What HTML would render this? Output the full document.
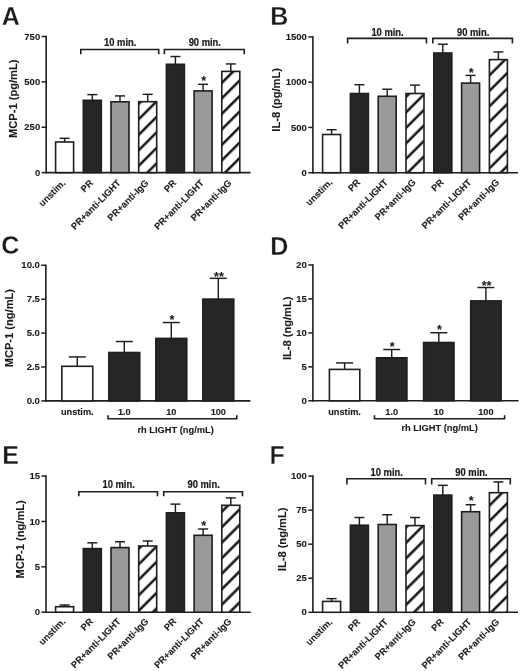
<!DOCTYPE html><html><head><meta charset="utf-8"><style>html,body{margin:0;padding:0;background:#fff;width:520px;height:671px;overflow:hidden}svg{display:block;will-change:transform}</style></head><body>
<svg width="520" height="671" viewBox="0 0 520 671" style="font-family:'Liberation Sans',sans-serif;font-weight:bold" fill="#1a1a1a">
<style>text{stroke:#1a1a1a;stroke-width:0.1px} .bl{stroke-width:0.2px}</style>
<defs><pattern id="h0" patternUnits="userSpaceOnUse" width="10.96" height="10.96" patternTransform="rotate(45)"><rect width="10.96" height="10.96" fill="#fff"/><rect x="5.82" y="-1" width="2.5" height="13" fill="#141414"/><rect x="-5.14" y="-1" width="2.5" height="13" fill="#141414"/></pattern><pattern id="h1" patternUnits="userSpaceOnUse" width="10.96" height="10.96" patternTransform="rotate(45)"><rect width="10.96" height="10.96" fill="#fff"/><rect x="5.96" y="-1" width="2.5" height="13" fill="#141414"/><rect x="-5.0" y="-1" width="2.5" height="13" fill="#141414"/></pattern><pattern id="h2" patternUnits="userSpaceOnUse" width="10.96" height="10.96" patternTransform="rotate(45)"><rect width="10.96" height="10.96" fill="#fff"/><rect x="3.63" y="-1" width="2.5" height="13" fill="#141414"/><rect x="-7.33" y="-1" width="2.5" height="13" fill="#141414"/></pattern><pattern id="h3" patternUnits="userSpaceOnUse" width="10.96" height="10.96" patternTransform="rotate(45)"><rect width="10.96" height="10.96" fill="#fff"/><rect x="3.56" y="-1" width="2.5" height="13" fill="#141414"/><rect x="-7.4" y="-1" width="2.5" height="13" fill="#141414"/></pattern><pattern id="h4" patternUnits="userSpaceOnUse" width="10.96" height="10.96" patternTransform="rotate(45)"><rect width="10.96" height="10.96" fill="#fff"/><rect x="2.64" y="-1" width="2.5" height="13" fill="#141414"/><rect x="-8.32" y="-1" width="2.5" height="13" fill="#141414"/></pattern><pattern id="h5" patternUnits="userSpaceOnUse" width="10.96" height="10.96" patternTransform="rotate(45)"><rect width="10.96" height="10.96" fill="#fff"/><rect x="2.29" y="-1" width="2.5" height="13" fill="#141414"/><rect x="-8.67" y="-1" width="2.5" height="13" fill="#141414"/></pattern><pattern id="h6" patternUnits="userSpaceOnUse" width="10.96" height="10.96" patternTransform="rotate(45)"><rect width="10.96" height="10.96" fill="#fff"/><rect x="1.15" y="-1" width="2.5" height="13" fill="#141414"/><rect x="-9.81" y="-1" width="2.5" height="13" fill="#141414"/></pattern><pattern id="h7" patternUnits="userSpaceOnUse" width="10.96" height="10.96" patternTransform="rotate(45)"><rect width="10.96" height="10.96" fill="#fff"/><rect x="0.87" y="-1" width="2.5" height="13" fill="#141414"/><rect x="-10.09" y="-1" width="2.5" height="13" fill="#141414"/></pattern></defs>
<rect width="520" height="671" fill="#fff"/>
<text x="1.85" y="25.0" font-size="25" style="stroke:#fff;stroke-width:0.3px">A</text>
<text x="270.25" y="25.0" font-size="25" style="stroke:#fff;stroke-width:0.3px">B</text>
<text x="1.3" y="254.4" font-size="25" style="stroke:#fff;stroke-width:0.3px">C</text>
<text x="270.25" y="254.8" font-size="25" style="stroke:#fff;stroke-width:0.3px">D</text>
<text x="2.15" y="463.8" font-size="25" style="stroke:#fff;stroke-width:0.3px">E</text>
<text x="269.55" y="463.8" font-size="25" style="stroke:#fff;stroke-width:0.3px">F</text>
<line x1="46.2" y1="35.75" x2="46.2" y2="173.4" stroke="#1e1e1e" stroke-width="1.6"/>
<line x1="45.4" y1="172.6" x2="250.5" y2="172.6" stroke="#1e1e1e" stroke-width="1.6"/>
<line x1="41.6" y1="172.6" x2="46.2" y2="172.6" stroke="#1e1e1e" stroke-width="1.5"/>
<text x="40.2" y="175.7" font-size="9.5" text-anchor="end">0</text>
<line x1="41.6" y1="127.23" x2="46.2" y2="127.23" stroke="#1e1e1e" stroke-width="1.5"/>
<text x="40.2" y="130.33" font-size="9.5" text-anchor="end">250</text>
<line x1="41.6" y1="81.87" x2="46.2" y2="81.87" stroke="#1e1e1e" stroke-width="1.5"/>
<text x="40.2" y="84.97" font-size="9.5" text-anchor="end">500</text>
<line x1="41.6" y1="36.5" x2="46.2" y2="36.5" stroke="#1e1e1e" stroke-width="1.5"/>
<text x="40.2" y="39.6" font-size="9.5" text-anchor="end">750</text>
<text transform="translate(16.8 98.75) rotate(-90) scale(1.06 1.0)" font-size="10.5" text-anchor="middle">MCP-1 (pg/mL)</text>
<line x1="64.6" y1="142.0" x2="64.6" y2="138.32" stroke="#1e1e1e" stroke-width="1.45"/>
<line x1="59.6" y1="138.32" x2="69.6" y2="138.32" stroke="#1e1e1e" stroke-width="1.45"/>
<rect x="55.6" y="142.0" width="18.0" height="30.6" fill="#fff" stroke="#1e1e1e" stroke-width="1.6"/>
<line x1="92.3" y1="100.3" x2="92.3" y2="94.62" stroke="#1e1e1e" stroke-width="1.45"/>
<line x1="87.3" y1="94.62" x2="97.3" y2="94.62" stroke="#1e1e1e" stroke-width="1.45"/>
<rect x="83.3" y="100.3" width="18.0" height="72.3" fill="#262626" stroke="#1e1e1e" stroke-width="1.6"/>
<line x1="120.0" y1="101.8" x2="120.0" y2="95.92" stroke="#1e1e1e" stroke-width="1.45"/>
<line x1="115.0" y1="95.92" x2="125.0" y2="95.92" stroke="#1e1e1e" stroke-width="1.45"/>
<rect x="111.0" y="101.8" width="18.0" height="70.8" fill="#9a9a9a" stroke="#1e1e1e" stroke-width="1.6"/>
<line x1="147.7" y1="101.7" x2="147.7" y2="94.32" stroke="#1e1e1e" stroke-width="1.45"/>
<line x1="142.7" y1="94.32" x2="152.7" y2="94.32" stroke="#1e1e1e" stroke-width="1.45"/>
<rect x="138.7" y="101.7" width="18.0" height="70.9" fill="url(#h0)" stroke="#1e1e1e" stroke-width="1.6"/>
<line x1="175.4" y1="64.3" x2="175.4" y2="56.52" stroke="#1e1e1e" stroke-width="1.45"/>
<line x1="170.4" y1="56.52" x2="180.4" y2="56.52" stroke="#1e1e1e" stroke-width="1.45"/>
<rect x="166.4" y="64.3" width="18.0" height="108.3" fill="#262626" stroke="#1e1e1e" stroke-width="1.6"/>
<line x1="203.1" y1="90.9" x2="203.1" y2="84.32" stroke="#1e1e1e" stroke-width="1.45"/>
<line x1="198.1" y1="84.32" x2="208.1" y2="84.32" stroke="#1e1e1e" stroke-width="1.45"/>
<rect x="194.1" y="90.9" width="18.0" height="81.7" fill="#9a9a9a" stroke="#1e1e1e" stroke-width="1.6"/>
<text x="203.7" y="85.0" font-size="12.5" text-anchor="middle">*</text>
<line x1="230.8" y1="71.4" x2="230.8" y2="63.93" stroke="#1e1e1e" stroke-width="1.45"/>
<line x1="225.8" y1="63.93" x2="235.8" y2="63.93" stroke="#1e1e1e" stroke-width="1.45"/>
<rect x="221.8" y="71.4" width="18.0" height="101.2" fill="url(#h1)" stroke="#1e1e1e" stroke-width="1.6"/>
<path d="M80.8 54.2 V49.5 H158.7 V54.2" fill="none" stroke="#1e1e1e" stroke-width="1.6"/>
<text class="bl" transform="translate(120.25 46.0) scale(1.0 1.08)" font-size="9.4" text-anchor="middle">10 min.</text>
<path d="M164.4 54.2 V49.5 H244.2 V54.2" fill="none" stroke="#1e1e1e" stroke-width="1.6"/>
<text class="bl" transform="translate(204.8 46.0) scale(1.0 1.08)" font-size="9.4" text-anchor="middle">90 min.</text>
<text x="66.0" y="183.6" font-size="9.3" text-anchor="end" transform="rotate(-45 66.0 183.6)">unstim.</text>
<text x="93.7" y="183.6" font-size="9.3" text-anchor="end" transform="rotate(-45 93.7 183.6)">PR</text>
<text x="121.4" y="183.6" font-size="9.3" text-anchor="end" transform="rotate(-45 121.4 183.6)">PR+anti-LIGHT</text>
<text x="149.1" y="183.6" font-size="9.3" text-anchor="end" transform="rotate(-45 149.1 183.6)">PR+anti-IgG</text>
<text x="176.8" y="183.6" font-size="9.3" text-anchor="end" transform="rotate(-45 176.8 183.6)">PR</text>
<text x="204.5" y="183.6" font-size="9.3" text-anchor="end" transform="rotate(-45 204.5 183.6)">PR+anti-LIGHT</text>
<text x="232.2" y="183.6" font-size="9.3" text-anchor="end" transform="rotate(-45 232.2 183.6)">PR+anti-IgG</text>
<line x1="312.9" y1="36.15" x2="312.9" y2="173.5" stroke="#1e1e1e" stroke-width="1.6"/>
<line x1="312.1" y1="172.7" x2="518" y2="172.7" stroke="#1e1e1e" stroke-width="1.6"/>
<line x1="308.3" y1="172.7" x2="312.9" y2="172.7" stroke="#1e1e1e" stroke-width="1.5"/>
<text x="306.9" y="175.8" font-size="9.5" text-anchor="end">0</text>
<line x1="308.3" y1="127.43" x2="312.9" y2="127.43" stroke="#1e1e1e" stroke-width="1.5"/>
<text x="306.9" y="130.53" font-size="9.5" text-anchor="end">500</text>
<line x1="308.3" y1="82.17" x2="312.9" y2="82.17" stroke="#1e1e1e" stroke-width="1.5"/>
<text x="306.9" y="85.27" font-size="9.5" text-anchor="end">1000</text>
<line x1="308.3" y1="36.9" x2="312.9" y2="36.9" stroke="#1e1e1e" stroke-width="1.5"/>
<text x="306.9" y="40.0" font-size="9.5" text-anchor="end">1500</text>
<text transform="translate(279.9 99.9) rotate(-90) scale(1.06 1.0)" font-size="10.5" text-anchor="middle">IL-8 (pg/mL)</text>
<line x1="331.6" y1="134.5" x2="331.6" y2="129.72" stroke="#1e1e1e" stroke-width="1.45"/>
<line x1="326.6" y1="129.72" x2="336.6" y2="129.72" stroke="#1e1e1e" stroke-width="1.45"/>
<rect x="322.6" y="134.5" width="18.0" height="38.2" fill="#fff" stroke="#1e1e1e" stroke-width="1.6"/>
<line x1="359.4" y1="93.5" x2="359.4" y2="84.72" stroke="#1e1e1e" stroke-width="1.45"/>
<line x1="354.4" y1="84.72" x2="364.4" y2="84.72" stroke="#1e1e1e" stroke-width="1.45"/>
<rect x="350.4" y="93.5" width="18.0" height="79.2" fill="#262626" stroke="#1e1e1e" stroke-width="1.6"/>
<line x1="387.2" y1="96.3" x2="387.2" y2="89.22" stroke="#1e1e1e" stroke-width="1.45"/>
<line x1="382.2" y1="89.22" x2="392.2" y2="89.22" stroke="#1e1e1e" stroke-width="1.45"/>
<rect x="378.2" y="96.3" width="18.0" height="76.4" fill="#9a9a9a" stroke="#1e1e1e" stroke-width="1.6"/>
<line x1="415.0" y1="93.5" x2="415.0" y2="85.12" stroke="#1e1e1e" stroke-width="1.45"/>
<line x1="410.0" y1="85.12" x2="420.0" y2="85.12" stroke="#1e1e1e" stroke-width="1.45"/>
<rect x="406.0" y="93.5" width="18.0" height="79.2" fill="url(#h2)" stroke="#1e1e1e" stroke-width="1.6"/>
<line x1="442.8" y1="53.0" x2="442.8" y2="44.23" stroke="#1e1e1e" stroke-width="1.45"/>
<line x1="437.8" y1="44.23" x2="447.8" y2="44.23" stroke="#1e1e1e" stroke-width="1.45"/>
<rect x="433.8" y="53.0" width="18.0" height="119.7" fill="#262626" stroke="#1e1e1e" stroke-width="1.6"/>
<line x1="470.6" y1="83.1" x2="470.6" y2="75.42" stroke="#1e1e1e" stroke-width="1.45"/>
<line x1="465.6" y1="75.42" x2="475.6" y2="75.42" stroke="#1e1e1e" stroke-width="1.45"/>
<rect x="461.6" y="83.1" width="18.0" height="89.6" fill="#9a9a9a" stroke="#1e1e1e" stroke-width="1.6"/>
<text x="471.2" y="77.0" font-size="12.5" text-anchor="middle">*</text>
<line x1="498.4" y1="59.6" x2="498.4" y2="51.93" stroke="#1e1e1e" stroke-width="1.45"/>
<line x1="493.4" y1="51.93" x2="503.4" y2="51.93" stroke="#1e1e1e" stroke-width="1.45"/>
<rect x="489.4" y="59.6" width="18.0" height="113.1" fill="url(#h3)" stroke="#1e1e1e" stroke-width="1.6"/>
<path d="M347.6 43.5 V38.4 H426.5 V43.5" fill="none" stroke="#1e1e1e" stroke-width="1.6"/>
<text class="bl" transform="translate(387.55 35.5) scale(1.0 1.08)" font-size="9.4" text-anchor="middle">10 min.</text>
<path d="M432.8 43.5 V38.4 H512.4 V43.5" fill="none" stroke="#1e1e1e" stroke-width="1.6"/>
<text class="bl" transform="translate(473.1 35.5) scale(1.0 1.08)" font-size="9.4" text-anchor="middle">90 min.</text>
<text x="333.0" y="182.9" font-size="9.3" text-anchor="end" transform="rotate(-45 333.0 182.9)">unstim.</text>
<text x="360.8" y="182.9" font-size="9.3" text-anchor="end" transform="rotate(-45 360.8 182.9)">PR</text>
<text x="388.6" y="182.9" font-size="9.3" text-anchor="end" transform="rotate(-45 388.6 182.9)">PR+anti-LIGHT</text>
<text x="416.4" y="182.9" font-size="9.3" text-anchor="end" transform="rotate(-45 416.4 182.9)">PR+anti-IgG</text>
<text x="444.2" y="182.9" font-size="9.3" text-anchor="end" transform="rotate(-45 444.2 182.9)">PR</text>
<text x="472.0" y="182.9" font-size="9.3" text-anchor="end" transform="rotate(-45 472.0 182.9)">PR+anti-LIGHT</text>
<text x="499.8" y="182.9" font-size="9.3" text-anchor="end" transform="rotate(-45 499.8 182.9)">PR+anti-IgG</text>
<line x1="45.85" y1="264.55" x2="45.85" y2="401.7" stroke="#1e1e1e" stroke-width="1.6"/>
<line x1="45.05" y1="400.9" x2="250.4" y2="400.9" stroke="#1e1e1e" stroke-width="1.6"/>
<line x1="41.25" y1="400.9" x2="45.85" y2="400.9" stroke="#1e1e1e" stroke-width="1.5"/>
<text x="39.85" y="404.0" font-size="9.5" text-anchor="end">0.0</text>
<line x1="41.25" y1="367.0" x2="45.85" y2="367.0" stroke="#1e1e1e" stroke-width="1.5"/>
<text x="39.85" y="370.1" font-size="9.5" text-anchor="end">2.5</text>
<line x1="41.25" y1="333.1" x2="45.85" y2="333.1" stroke="#1e1e1e" stroke-width="1.5"/>
<text x="39.85" y="336.2" font-size="9.5" text-anchor="end">5.0</text>
<line x1="41.25" y1="299.2" x2="45.85" y2="299.2" stroke="#1e1e1e" stroke-width="1.5"/>
<text x="39.85" y="302.3" font-size="9.5" text-anchor="end">7.5</text>
<line x1="41.25" y1="265.3" x2="45.85" y2="265.3" stroke="#1e1e1e" stroke-width="1.5"/>
<text x="39.85" y="268.4" font-size="9.5" text-anchor="end">10.0</text>
<text transform="translate(12.9 328.15) rotate(-90) scale(1.06 1.0)" font-size="10.5" text-anchor="middle">MCP-1 (ng/mL)</text>
<line x1="77.3" y1="366.3" x2="77.3" y2="356.93" stroke="#1e1e1e" stroke-width="1.45"/>
<line x1="68.8" y1="356.93" x2="85.8" y2="356.93" stroke="#1e1e1e" stroke-width="1.45"/>
<rect x="61.85" y="366.3" width="30.9" height="34.6" fill="#fff" stroke="#1e1e1e" stroke-width="1.6"/>
<text x="77.3" y="414.6" font-size="9.2" text-anchor="middle">unstim.</text>
<line x1="124.3" y1="352.5" x2="124.3" y2="341.53" stroke="#1e1e1e" stroke-width="1.45"/>
<line x1="115.8" y1="341.53" x2="132.8" y2="341.53" stroke="#1e1e1e" stroke-width="1.45"/>
<rect x="108.85" y="352.5" width="30.9" height="48.4" fill="#262626" stroke="#1e1e1e" stroke-width="1.6"/>
<text x="124.3" y="414.6" font-size="9.2" text-anchor="middle">1.0</text>
<line x1="171.3" y1="338.4" x2="171.3" y2="322.53" stroke="#1e1e1e" stroke-width="1.45"/>
<line x1="162.8" y1="322.53" x2="179.8" y2="322.53" stroke="#1e1e1e" stroke-width="1.45"/>
<rect x="155.85" y="338.4" width="30.9" height="62.5" fill="#262626" stroke="#1e1e1e" stroke-width="1.6"/>
<text x="171.9" y="324.3" font-size="12.5" text-anchor="middle">*</text>
<text x="171.3" y="414.6" font-size="9.2" text-anchor="middle">10</text>
<line x1="218.3" y1="299.1" x2="218.3" y2="278.33" stroke="#1e1e1e" stroke-width="1.45"/>
<line x1="209.8" y1="278.33" x2="226.8" y2="278.33" stroke="#1e1e1e" stroke-width="1.45"/>
<rect x="202.85" y="299.1" width="30.9" height="101.8" fill="#262626" stroke="#1e1e1e" stroke-width="1.6"/>
<text x="218.9" y="281.4" font-size="12.5" text-anchor="middle">**</text>
<text x="218.3" y="414.6" font-size="9.2" text-anchor="middle">100</text>
<path d="M108.1 415.3 V418.8 H236.8 V415.3" fill="none" stroke="#1e1e1e" stroke-width="1.6"/>
<text x="175.6" y="433.3" font-size="9.3" text-anchor="middle">rh LIGHT (ng/mL)</text>
<line x1="312.9" y1="264.25" x2="312.9" y2="401.6" stroke="#1e1e1e" stroke-width="1.6"/>
<line x1="312.1" y1="400.8" x2="518.5" y2="400.8" stroke="#1e1e1e" stroke-width="1.6"/>
<line x1="308.3" y1="400.8" x2="312.9" y2="400.8" stroke="#1e1e1e" stroke-width="1.5"/>
<text x="306.9" y="403.9" font-size="9.5" text-anchor="end">0</text>
<line x1="308.3" y1="366.85" x2="312.9" y2="366.85" stroke="#1e1e1e" stroke-width="1.5"/>
<text x="306.9" y="369.95" font-size="9.5" text-anchor="end">5</text>
<line x1="308.3" y1="332.9" x2="312.9" y2="332.9" stroke="#1e1e1e" stroke-width="1.5"/>
<text x="306.9" y="336.0" font-size="9.5" text-anchor="end">10</text>
<line x1="308.3" y1="298.95" x2="312.9" y2="298.95" stroke="#1e1e1e" stroke-width="1.5"/>
<text x="306.9" y="302.05" font-size="9.5" text-anchor="end">15</text>
<line x1="308.3" y1="265.0" x2="312.9" y2="265.0" stroke="#1e1e1e" stroke-width="1.5"/>
<text x="306.9" y="268.1" font-size="9.5" text-anchor="end">20</text>
<text transform="translate(290.5 328.3) rotate(-90) scale(1.06 1.0)" font-size="10.5" text-anchor="middle">IL-8 (ng/mL)</text>
<line x1="344.6" y1="369.4" x2="344.6" y2="362.93" stroke="#1e1e1e" stroke-width="1.45"/>
<line x1="336.1" y1="362.93" x2="353.1" y2="362.93" stroke="#1e1e1e" stroke-width="1.45"/>
<rect x="329.4" y="369.4" width="30.4" height="31.4" fill="#fff" stroke="#1e1e1e" stroke-width="1.6"/>
<text x="344.6" y="414.6" font-size="9.2" text-anchor="middle">unstim.</text>
<line x1="391.7" y1="357.8" x2="391.7" y2="349.53" stroke="#1e1e1e" stroke-width="1.45"/>
<line x1="383.2" y1="349.53" x2="400.2" y2="349.53" stroke="#1e1e1e" stroke-width="1.45"/>
<rect x="376.5" y="357.8" width="30.4" height="43.0" fill="#262626" stroke="#1e1e1e" stroke-width="1.6"/>
<text x="392.3" y="350.8" font-size="12.5" text-anchor="middle">*</text>
<text x="391.7" y="414.6" font-size="9.2" text-anchor="middle">1.0</text>
<line x1="438.8" y1="342.5" x2="438.8" y2="332.73" stroke="#1e1e1e" stroke-width="1.45"/>
<line x1="430.3" y1="332.73" x2="447.3" y2="332.73" stroke="#1e1e1e" stroke-width="1.45"/>
<rect x="423.6" y="342.5" width="30.4" height="58.3" fill="#262626" stroke="#1e1e1e" stroke-width="1.6"/>
<text x="439.4" y="334.1" font-size="12.5" text-anchor="middle">*</text>
<text x="438.8" y="414.6" font-size="9.2" text-anchor="middle">10</text>
<line x1="485.9" y1="300.9" x2="485.9" y2="287.53" stroke="#1e1e1e" stroke-width="1.45"/>
<line x1="477.4" y1="287.53" x2="494.4" y2="287.53" stroke="#1e1e1e" stroke-width="1.45"/>
<rect x="470.7" y="300.9" width="30.4" height="99.9" fill="#262626" stroke="#1e1e1e" stroke-width="1.6"/>
<text x="486.5" y="289.6" font-size="12.5" text-anchor="middle">**</text>
<text x="485.9" y="414.6" font-size="9.2" text-anchor="middle">100</text>
<path d="M374.5 415.3 V418.8 H504.6 V415.3" fill="none" stroke="#1e1e1e" stroke-width="1.6"/>
<text x="439.6" y="431.3" font-size="9.3" text-anchor="middle">rh LIGHT (ng/mL)</text>
<line x1="46.0" y1="475.35" x2="46.0" y2="613.0" stroke="#1e1e1e" stroke-width="1.6"/>
<line x1="45.2" y1="612.2" x2="250.8" y2="612.2" stroke="#1e1e1e" stroke-width="1.6"/>
<line x1="41.4" y1="612.2" x2="46.0" y2="612.2" stroke="#1e1e1e" stroke-width="1.5"/>
<text x="40.0" y="615.3" font-size="9.5" text-anchor="end">0</text>
<line x1="41.4" y1="566.83" x2="46.0" y2="566.83" stroke="#1e1e1e" stroke-width="1.5"/>
<text x="40.0" y="569.93" font-size="9.5" text-anchor="end">5</text>
<line x1="41.4" y1="521.47" x2="46.0" y2="521.47" stroke="#1e1e1e" stroke-width="1.5"/>
<text x="40.0" y="524.57" font-size="9.5" text-anchor="end">10</text>
<line x1="41.4" y1="476.1" x2="46.0" y2="476.1" stroke="#1e1e1e" stroke-width="1.5"/>
<text x="40.0" y="479.2" font-size="9.5" text-anchor="end">15</text>
<text transform="translate(23.6 539.4) rotate(-90) scale(1.06 1.0)" font-size="10.5" text-anchor="middle">MCP-1 (ng/mL)</text>
<line x1="64.6" y1="606.7" x2="64.6" y2="605.02" stroke="#1e1e1e" stroke-width="1.45"/>
<line x1="59.6" y1="605.02" x2="69.6" y2="605.02" stroke="#1e1e1e" stroke-width="1.45"/>
<rect x="55.6" y="606.7" width="18.0" height="5.5" fill="#fff" stroke="#1e1e1e" stroke-width="1.6"/>
<line x1="92.3" y1="548.6" x2="92.3" y2="542.83" stroke="#1e1e1e" stroke-width="1.45"/>
<line x1="87.3" y1="542.83" x2="97.3" y2="542.83" stroke="#1e1e1e" stroke-width="1.45"/>
<rect x="83.3" y="548.6" width="18.0" height="63.6" fill="#262626" stroke="#1e1e1e" stroke-width="1.6"/>
<line x1="120.0" y1="547.6" x2="120.0" y2="541.73" stroke="#1e1e1e" stroke-width="1.45"/>
<line x1="115.0" y1="541.73" x2="125.0" y2="541.73" stroke="#1e1e1e" stroke-width="1.45"/>
<rect x="111.0" y="547.6" width="18.0" height="64.6" fill="#9a9a9a" stroke="#1e1e1e" stroke-width="1.6"/>
<line x1="147.7" y1="546.0" x2="147.7" y2="541.02" stroke="#1e1e1e" stroke-width="1.45"/>
<line x1="142.7" y1="541.02" x2="152.7" y2="541.02" stroke="#1e1e1e" stroke-width="1.45"/>
<rect x="138.7" y="546.0" width="18.0" height="66.2" fill="url(#h4)" stroke="#1e1e1e" stroke-width="1.6"/>
<line x1="175.4" y1="512.8" x2="175.4" y2="504.12" stroke="#1e1e1e" stroke-width="1.45"/>
<line x1="170.4" y1="504.12" x2="180.4" y2="504.12" stroke="#1e1e1e" stroke-width="1.45"/>
<rect x="166.4" y="512.8" width="18.0" height="99.4" fill="#262626" stroke="#1e1e1e" stroke-width="1.6"/>
<line x1="203.1" y1="535.3" x2="203.1" y2="529.02" stroke="#1e1e1e" stroke-width="1.45"/>
<line x1="198.1" y1="529.02" x2="208.1" y2="529.02" stroke="#1e1e1e" stroke-width="1.45"/>
<rect x="194.1" y="535.3" width="18.0" height="76.9" fill="#9a9a9a" stroke="#1e1e1e" stroke-width="1.6"/>
<text x="203.7" y="530.4" font-size="12.5" text-anchor="middle">*</text>
<line x1="230.8" y1="505.3" x2="230.8" y2="497.93" stroke="#1e1e1e" stroke-width="1.45"/>
<line x1="225.8" y1="497.93" x2="235.8" y2="497.93" stroke="#1e1e1e" stroke-width="1.45"/>
<rect x="221.8" y="505.3" width="18.0" height="106.9" fill="url(#h5)" stroke="#1e1e1e" stroke-width="1.6"/>
<path d="M78.8 496.2 V491.7 H157.5 V496.2" fill="none" stroke="#1e1e1e" stroke-width="1.6"/>
<text class="bl" transform="translate(118.65 488.3) scale(1.0 1.08)" font-size="9.4" text-anchor="middle">10 min.</text>
<path d="M163.7 496.2 V491.7 H242.5 V496.2" fill="none" stroke="#1e1e1e" stroke-width="1.6"/>
<text class="bl" transform="translate(203.6 488.3) scale(1.0 1.08)" font-size="9.4" text-anchor="middle">90 min.</text>
<text x="66.0" y="622.1" font-size="9.3" text-anchor="end" transform="rotate(-45 66.0 622.1)">unstim.</text>
<text x="93.7" y="622.1" font-size="9.3" text-anchor="end" transform="rotate(-45 93.7 622.1)">PR</text>
<text x="121.4" y="622.1" font-size="9.3" text-anchor="end" transform="rotate(-45 121.4 622.1)">PR+anti-LIGHT</text>
<text x="149.1" y="622.1" font-size="9.3" text-anchor="end" transform="rotate(-45 149.1 622.1)">PR+anti-IgG</text>
<text x="176.8" y="622.1" font-size="9.3" text-anchor="end" transform="rotate(-45 176.8 622.1)">PR</text>
<text x="204.5" y="622.1" font-size="9.3" text-anchor="end" transform="rotate(-45 204.5 622.1)">PR+anti-LIGHT</text>
<text x="232.2" y="622.1" font-size="9.3" text-anchor="end" transform="rotate(-45 232.2 622.1)">PR+anti-IgG</text>
<line x1="312.9" y1="475.35" x2="312.9" y2="613.1" stroke="#1e1e1e" stroke-width="1.6"/>
<line x1="312.1" y1="612.3" x2="518" y2="612.3" stroke="#1e1e1e" stroke-width="1.6"/>
<line x1="308.3" y1="612.3" x2="312.9" y2="612.3" stroke="#1e1e1e" stroke-width="1.5"/>
<text x="306.9" y="615.4" font-size="9.5" text-anchor="end">0</text>
<line x1="308.3" y1="578.25" x2="312.9" y2="578.25" stroke="#1e1e1e" stroke-width="1.5"/>
<text x="306.9" y="581.35" font-size="9.5" text-anchor="end">25</text>
<line x1="308.3" y1="544.2" x2="312.9" y2="544.2" stroke="#1e1e1e" stroke-width="1.5"/>
<text x="306.9" y="547.3" font-size="9.5" text-anchor="end">50</text>
<line x1="308.3" y1="510.15" x2="312.9" y2="510.15" stroke="#1e1e1e" stroke-width="1.5"/>
<text x="306.9" y="513.25" font-size="9.5" text-anchor="end">75</text>
<line x1="308.3" y1="476.1" x2="312.9" y2="476.1" stroke="#1e1e1e" stroke-width="1.5"/>
<text x="306.9" y="479.2" font-size="9.5" text-anchor="end">100</text>
<text transform="translate(286.0 539.4) rotate(-90) scale(1.06 1.0)" font-size="10.5" text-anchor="middle">IL-8 (ng/mL)</text>
<line x1="331.6" y1="601.4" x2="331.6" y2="598.62" stroke="#1e1e1e" stroke-width="1.45"/>
<line x1="326.6" y1="598.62" x2="336.6" y2="598.62" stroke="#1e1e1e" stroke-width="1.45"/>
<rect x="322.6" y="601.4" width="18.0" height="10.9" fill="#fff" stroke="#1e1e1e" stroke-width="1.6"/>
<line x1="359.4" y1="525.2" x2="359.4" y2="517.52" stroke="#1e1e1e" stroke-width="1.45"/>
<line x1="354.4" y1="517.52" x2="364.4" y2="517.52" stroke="#1e1e1e" stroke-width="1.45"/>
<rect x="350.4" y="525.2" width="18.0" height="87.1" fill="#262626" stroke="#1e1e1e" stroke-width="1.6"/>
<line x1="387.2" y1="524.5" x2="387.2" y2="514.73" stroke="#1e1e1e" stroke-width="1.45"/>
<line x1="382.2" y1="514.73" x2="392.2" y2="514.73" stroke="#1e1e1e" stroke-width="1.45"/>
<rect x="378.2" y="524.5" width="18.0" height="87.8" fill="#9a9a9a" stroke="#1e1e1e" stroke-width="1.6"/>
<line x1="415.0" y1="525.6" x2="415.0" y2="517.52" stroke="#1e1e1e" stroke-width="1.45"/>
<line x1="410.0" y1="517.52" x2="420.0" y2="517.52" stroke="#1e1e1e" stroke-width="1.45"/>
<rect x="406.0" y="525.6" width="18.0" height="86.7" fill="url(#h6)" stroke="#1e1e1e" stroke-width="1.6"/>
<line x1="442.8" y1="495.1" x2="442.8" y2="485.33" stroke="#1e1e1e" stroke-width="1.45"/>
<line x1="437.8" y1="485.33" x2="447.8" y2="485.33" stroke="#1e1e1e" stroke-width="1.45"/>
<rect x="433.8" y="495.1" width="18.0" height="117.2" fill="#262626" stroke="#1e1e1e" stroke-width="1.6"/>
<line x1="470.6" y1="511.7" x2="470.6" y2="504.73" stroke="#1e1e1e" stroke-width="1.45"/>
<line x1="465.6" y1="504.73" x2="475.6" y2="504.73" stroke="#1e1e1e" stroke-width="1.45"/>
<rect x="461.6" y="511.7" width="18.0" height="100.6" fill="#9a9a9a" stroke="#1e1e1e" stroke-width="1.6"/>
<text x="471.2" y="505.4" font-size="12.5" text-anchor="middle">*</text>
<line x1="498.4" y1="492.7" x2="498.4" y2="481.93" stroke="#1e1e1e" stroke-width="1.45"/>
<line x1="493.4" y1="481.93" x2="503.4" y2="481.93" stroke="#1e1e1e" stroke-width="1.45"/>
<rect x="489.4" y="492.7" width="18.0" height="119.6" fill="url(#h7)" stroke="#1e1e1e" stroke-width="1.6"/>
<path d="M346.9 484.4 V478.7 H425.5 V484.4" fill="none" stroke="#1e1e1e" stroke-width="1.6"/>
<text class="bl" transform="translate(386.7 475.6) scale(1.0 1.08)" font-size="9.4" text-anchor="middle">10 min.</text>
<path d="M431.7 484.4 V478.7 H510.3 V484.4" fill="none" stroke="#1e1e1e" stroke-width="1.6"/>
<text class="bl" transform="translate(471.5 475.6) scale(1.0 1.08)" font-size="9.4" text-anchor="middle">90 min.</text>
<text x="333.0" y="622.6" font-size="9.3" text-anchor="end" transform="rotate(-45 333.0 622.6)">unstim.</text>
<text x="360.8" y="622.6" font-size="9.3" text-anchor="end" transform="rotate(-45 360.8 622.6)">PR</text>
<text x="388.6" y="622.6" font-size="9.3" text-anchor="end" transform="rotate(-45 388.6 622.6)">PR+anti-LIGHT</text>
<text x="416.4" y="622.6" font-size="9.3" text-anchor="end" transform="rotate(-45 416.4 622.6)">PR+anti-IgG</text>
<text x="444.2" y="622.6" font-size="9.3" text-anchor="end" transform="rotate(-45 444.2 622.6)">PR</text>
<text x="472.0" y="622.6" font-size="9.3" text-anchor="end" transform="rotate(-45 472.0 622.6)">PR+anti-LIGHT</text>
<text x="499.8" y="622.6" font-size="9.3" text-anchor="end" transform="rotate(-45 499.8 622.6)">PR+anti-IgG</text>
</svg></body></html>
